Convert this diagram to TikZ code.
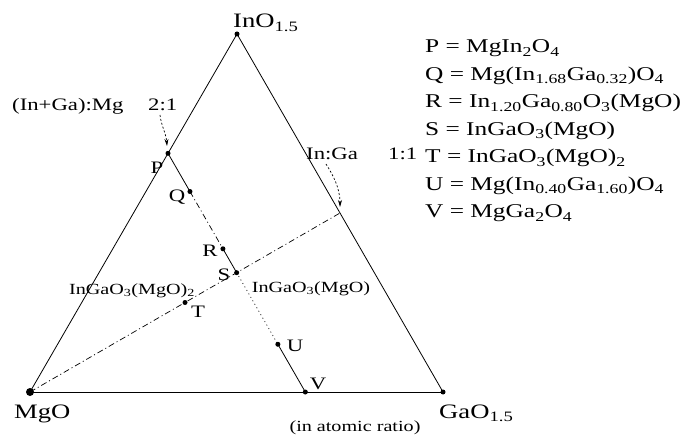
\documentclass[tikz,border=0pt]{standalone}
\usepackage{fontspec}
\setmainfont{Liberation Serif}[FakeStretch=1.3]
\usetikzlibrary{arrows.meta,calc}
\newcommand{\sbs}[1]{\textsubscript{#1}}
\begin{document}
\begin{tikzpicture}[x=1pt,y=1pt,
 dot/.style={circle,fill=black,inner sep=0pt,minimum size=5pt},
 bigdot/.style={circle,fill=black,inner sep=0pt,minimum size=8pt},
 side/.style={line width=0.8pt},
 dashdot/.style={line width=0.7pt,dash pattern=on 6pt off 3pt on 1pt off 3pt},
 dotline/.style={line width=0.7pt,dash pattern=on 1pt off 3pt},
 solidseg/.style={line width=0.8pt},
 vlab/.style={font=\fontsize{20.5}{24}\selectfont,anchor=base west,inner sep=0pt},
 leg/.style={font=\fontsize{19.5}{23}\selectfont,anchor=base west,inner sep=0pt},
 lab/.style={font=\fontsize{17.5}{20}\selectfont,inner sep=0pt},
 small/.style={font=\fontsize{15.5}{18}\selectfont,inner sep=0pt},
 ratioarrow/.style={line width=0.7pt,dash pattern=on 2pt off 2pt,-{Stealth[length=7pt,width=4pt]}}
]
\fill[white] (0,0) rectangle (685,-438);
\useasboundingbox (0,0) rectangle (685,-438);

% vertices
\coordinate (In) at (237,-34);
\coordinate (Mg) at (30,-392);
\coordinate (Ga) at (443,-392);
\coordinate (Pc) at ($(Mg)!2/3!(In)$);
\coordinate (Vc) at ($(Mg)!2/3!(Ga)$);
\coordinate (Mc) at ($(In)!0.5!(Ga)$);

% sides
\draw[side] (In) -- (Mg);
\draw[side] (In) -- (Ga);
\draw[side,line width=1pt] (Mg) -- (Ga);

% composition points
\node[dot] (InD) at (In) {};
\node[bigdot] (MgD) at (Mg) {};
\node[dot] (GaD) at (Ga) {};
\node[dot] (P) at (Pc) {};
\node[dot] (V) at (Vc) {};
\node[dot] (Q) at ($(Pc)!0.16!(Vc)$) {};
\node[dot] (R) at ($(Pc)!0.4!(Vc)$) {};
\node[dot] (S) at ($(Pc)!0.5!(Vc)$) {};
\node[dot] (U) at ($(Pc)!0.8!(Vc)$) {};
\node[dot] (T) at ($(Mg)!0.5!(Mc)$) {};
\coordinate (M) at (Mc);

% join lines
\draw[dashdot] (MgD.center) -- (M);
\draw[solidseg] (P.center) -- (Q.center);
\draw[dashdot] (Q.center) -- (R.center);
\draw[solidseg] (R.center) -- (S.center);
\draw[dotline] (S.center) -- (U.center);
\draw[solidseg] (U.center) -- (V.center);

% vertex labels
\node[vlab] (InL) at (233,-28) {InO\sbs{1.5}};
\node[vlab] (MgL) at (14,-418) {MgO};
\node[vlab] (GaL) at (439,-418) {GaO\sbs{1.5}};
\node[small] (atom) at (355,-428) {(in atomic ratio)};

% point labels
\node[lab] (PL) at (157,-168) {P};
\node[lab] (QL) at (177,-197) {Q};
\node[lab] (RL) at (210,-251) {R};
\node[lab] (SL) at (224,-275) {S};
\node[lab] (TL) at (198,-312) {T};
\node[lab] (UL) at (295,-346) {U};
\node[lab] (VL) at (318,-384) {V};
\node[small] (T2) at (132,-291) {InGaO\sbs{3}(MgO)\sbs{2}};
\node[small] (S2) at (311,-289) {InGaO\sbs{3}(MgO)};

% ratio annotations
\node[lab,anchor=base west] (IGM) at (12,-111) {(In+Ga):Mg};
\node[lab,anchor=base west] (r21) at (148,-111) {2:1};
\node[lab,anchor=base west] (IG) at (306,-160) {In:Ga};
\node[lab,anchor=base west] (r11) at (388,-160) {1:1};
\coordinate (a1s) at (160,-115);
\coordinate (a1e) at (167,-146);
\coordinate (a2s) at (326,-164);
\coordinate (a2e) at (340,-207);
\draw[ratioarrow] (a1s) .. controls (161,-125) and (166,-133) .. (a1e);
\draw[ratioarrow] (a2s) .. controls (333,-175) and (340,-188) .. (a2e);

% legend
\node[leg] (L1) at (425,-53) {P = MgIn\sbs{2}O\sbs{4}};
\node[leg] (L2) at (425,-80.5) {Q = Mg(In\sbs{1.68}Ga\sbs{0.32})O\sbs{4}};
\node[leg] (L3) at (425,-108) {R = In\sbs{1.20}Ga\sbs{0.80}O\sbs{3}(MgO)};
\node[leg] (L4) at (425,-135.5) {S = InGaO\sbs{3}(MgO)};
\node[leg] (L5) at (425,-163) {T = InGaO\sbs{3}(MgO)\sbs{2}};
\node[leg] (L6) at (425,-190.5) {U = Mg(In\sbs{0.40}Ga\sbs{1.60})O\sbs{4}};
\node[leg] (L7) at (425,-218) {V = MgGa\sbs{2}O\sbs{4}};
\end{tikzpicture}
\end{document}
